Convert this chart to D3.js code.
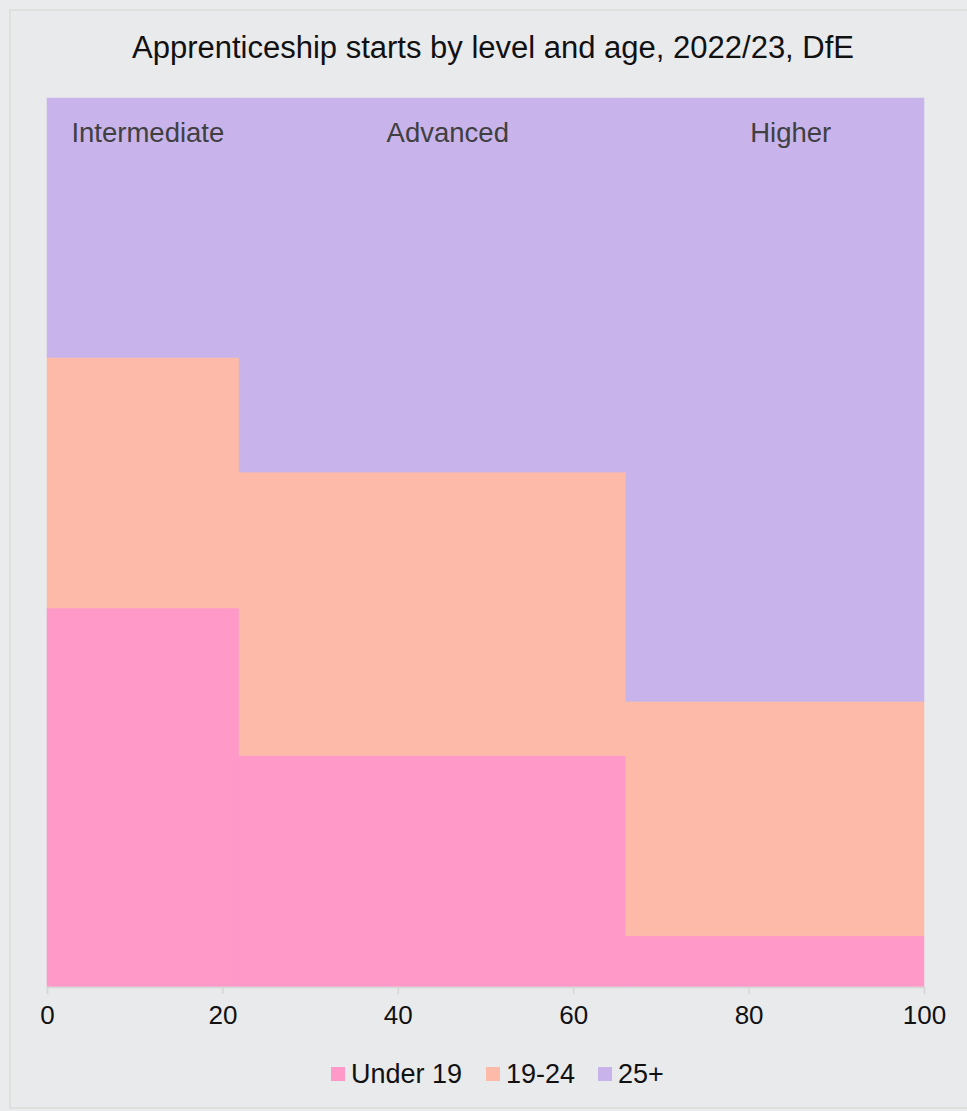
<!DOCTYPE html>
<html><head><meta charset="utf-8">
<script src="https://cdn.jsdelivr.net/npm/d3@7"></script>
<style>
html,body{margin:0;padding:0;background:#eaebec;}
svg{display:block;font-family:"Liberation Sans",Arial,sans-serif;}
</style></head>
<body><div id="chart"></div>
<script>
const levels = ["Intermediate", "Advanced", "Higher"];
const levelWidths = [21.9, 44.1, 34.0];           // share of all starts (%)
const ageGroups = ["Under 19", "19-24", "25+"];
const under19 = [42.6, 26.0, 5.7];
const age19to24 = [28.2, 31.9, 26.4];
const age25plus = [29.2, 42.1, 67.9];
const labelPos = [11.5, 45.7, 84.8];
const xTicks = [0, 20, 40, 60, 80, 100];
const colors = ["#ff99c8", "#fdbaa8", "#c8b4ea"];
const title = "Apprenticeship starts by level and age, 2022/23, DfE";

const W = 967, H = 1111;
const m = {left: 47, right: 43, top: 98, bottom: 125};
const svg = d3.select("#chart").append("svg").attr("width", W).attr("height", H);
svg.append("rect").attr("x", 10).attr("y", 10).attr("width", W).attr("height", 1098)
  .attr("fill", "#e9eaec").attr("stroke", "#dfe0de").attr("stroke-width", 2);

const x = d3.scaleLinear().domain([0, 100]).range([m.left, W - m.right]);
const y = d3.scaleLinear().domain([0, 100]).range([H - m.bottom + 0.5, m.top]);
const color = d3.scaleOrdinal().domain(ageGroups).range(colors);

const series = [under19, age19to24, age25plus];
let cum = 0;
const cols = levels.map((lv, i) => {
  const x0 = cum; cum += levelWidths[i];
  let base = 0;
  const segs = ageGroups.map((g, j) => {
    const s = {group: g, y0: base, y1: base + series[j][i]};
    base += series[j][i];
    return s;
  });
  segs[segs.length - 1].y1 = 100;
  return {level: lv, x0, x1: i === levels.length - 1 ? 100 : cum, segs};
});

const g = svg.append("g");
cols.forEach(c => {
  g.selectAll(null).data(c.segs).enter().append("rect")
    .attr("x", x(c.x0)).attr("width", x(c.x1) - x(c.x0))
    .attr("y", d => y(d.y1)).attr("height", d => y(d.y0) - y(d.y1))
    .attr("fill", d => color(d.group))
    .attr("stroke", d => color(d.group)).attr("stroke-width", 0.5);
});

svg.selectAll(".lvl").data(levels).enter().append("text")
  .attr("x", (d, i) => x(labelPos[i])).attr("y", 142)
  .attr("text-anchor", "middle").attr("font-size", 27.5).attr("fill", "#404040")
  .text(d => d);

const axis = d3.axisBottom(x).tickValues(xTicks).tickSize(7).tickPadding(12);
const ax = svg.append("g").attr("transform", `translate(0,${H - m.bottom + 1})`).call(axis);
ax.select(".domain").attr("stroke", "#d6d6d6").attr("stroke-width", 1.5);
ax.selectAll(".tick line").attr("stroke", "#d6d6d6").attr("stroke-width", 1.5);
ax.selectAll(".tick text").attr("font-size", 26).attr("fill", "#111")
  .attr("font-family", "Liberation Sans, Arial, sans-serif");

svg.append("text").attr("x", 493).attr("y", 58).attr("text-anchor", "middle")
  .attr("font-size", 31).attr("fill", "#111").text(title);

const legendX = [331, 486, 598];
const lg = svg.selectAll(".lg").data(ageGroups).enter().append("g")
  .attr("transform", (d, i) => `translate(${legendX[i]},1067)`);
lg.append("rect").attr("width", 14).attr("height", 14).attr("fill", d => color(d));
lg.append("text").attr("x", 20).attr("y", 16).attr("font-size", 27).attr("fill", "#111").text(d => d);
</script></body></html>
